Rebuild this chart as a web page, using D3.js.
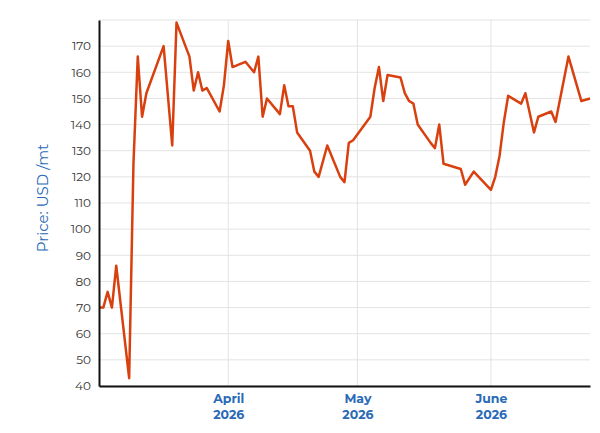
<!DOCTYPE html>
<html><head><meta charset="utf-8">
<script src="https://cdn.jsdelivr.net/npm/d3@7"></script>
<style>body{margin:0;background:#fff}text{font-family:Montserrat,"Open Sans",sans-serif}</style>
</head><body>
<svg id="c" width="600" height="433"></svg>
<script>
// price series
var dates = ["2026-03-02","2026-03-03","2026-03-04","2026-03-05","2026-03-06","2026-03-09","2026-03-10","2026-03-11","2026-03-12","2026-03-13","2026-03-17","2026-03-19","2026-03-20","2026-03-23","2026-03-24","2026-03-25","2026-03-26","2026-03-27","2026-03-30","2026-03-31","2026-04-01","2026-04-02","2026-04-05","2026-04-07","2026-04-08","2026-04-09","2026-04-10","2026-04-13","2026-04-14","2026-04-15","2026-04-16","2026-04-17","2026-04-20","2026-04-21","2026-04-22","2026-04-24","2026-04-27","2026-04-28","2026-04-29","2026-04-30","2026-05-04","2026-05-05","2026-05-06","2026-05-07","2026-05-08","2026-05-11","2026-05-12","2026-05-13","2026-05-14","2026-05-15","2026-05-18","2026-05-19","2026-05-20","2026-05-21","2026-05-25","2026-05-26","2026-05-28","2026-06-01","2026-06-02","2026-06-03","2026-06-04","2026-06-05","2026-06-08","2026-06-09","2026-06-11","2026-06-12","2026-06-15","2026-06-16","2026-06-19","2026-06-22","2026-06-24"];
var prices = [70,70,76,70,86,43,125,166,143,152,170,132,179,166,153,160,153,154,145,155,172,162,164,160,166,143,150,144,155,147,147,137,130,122,120,132,120,118,133,134,143,154,162,149,159,158,152,149,148,140,133,131,140,125,123,117,122,115,120,128,141,151,148,152,137,143,145,141,166,149,150];
var yTicks = [40,50,60,70,80,90,100,110,120,130,140,150,160,170];
var monthTicks = ["2026-04-01","2026-05-01","2026-06-01"];
var monthNames = ["April","May","June"];

var parse = d3.timeParse("%Y-%m-%d");
var data = dates.map(function(d,i){ return [parse(d), prices[i]]; });

var margin = {top: 20, left: 99, right: 10, bottom: 47};
var width = 590 - margin.left, height = 386 - margin.top;

var svg = d3.select("#c").append("g")
    .attr("transform","translate(" + margin.left + "," + margin.top + ")");

var x = d3.scaleTime().domain([parse("2026-03-02"), parse("2026-06-24")]).range([0, width]);
var y = d3.scaleLinear().domain([40,180]).range([height, 0]);

// grid
svg.selectAll(".hg").data(yTicks.concat([180])).enter().append("line")
    .attr("x1",0).attr("x2",width).attr("y1",y).attr("y2",y)
    .attr("stroke","#e3e3e3").attr("stroke-width",1);
svg.selectAll(".vg").data(monthTicks).enter().append("line")
    .attr("x1",function(d){return x(parse(d));}).attr("x2",function(d){return x(parse(d));})
    .attr("y1",0).attr("y2",height).attr("stroke","#e3e3e3");

svg.append("path").datum(data)
    .attr("fill","none").attr("stroke","#d9400f").attr("stroke-width",2.5)
    .attr("stroke-linejoin","round")
    .attr("d", d3.line().x(function(d){return x(d[0]);}).y(function(d){return y(d[1]);}));

// axes
var ya = svg.append("g").call(d3.axisLeft(y).tickValues(yTicks).tickSize(0).tickPadding(8));
ya.select(".domain").attr("stroke","#111").attr("stroke-width",2);
ya.selectAll("text").attr("font-size",12).attr("fill","#333");

var xa = svg.append("g").attr("transform","translate(0,"+height+")")
    .call(d3.axisBottom(x).tickValues(monthTicks.map(parse)).tickSize(0).tickFormat(""));
xa.select(".domain").attr("stroke","#111").attr("stroke-width",2);
xa.selectAll(".tick").each(function(d,i){
  var t = d3.select(this).append("text").attr("fill","#2a6ab7").attr("font-size",12.5)
    .attr("font-weight","bold").attr("text-anchor","middle");
  t.append("tspan").attr("x",0).attr("y",17).text(monthNames[i]);
  t.append("tspan").attr("x",0).attr("y",33).text("2026");
});

d3.select("#c").append("text")
  .attr("transform","translate(48,"+(margin.top+height/2-5)+") rotate(-90)")
  .attr("text-anchor","middle").attr("fill","#2a6ab7").attr("font-size",15)
  .text("Price: USD /mt");
</script>
</body></html>
